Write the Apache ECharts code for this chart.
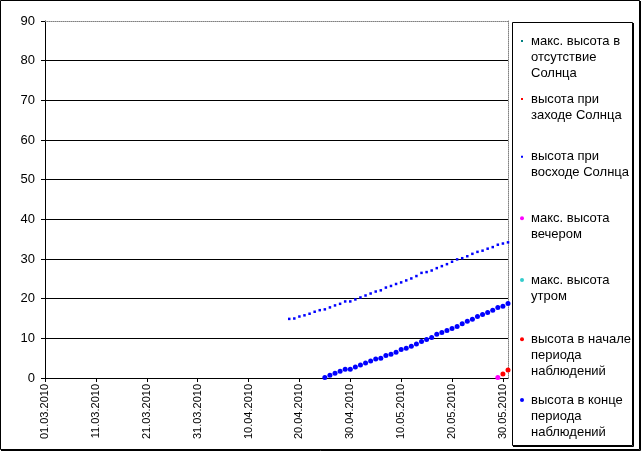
<!DOCTYPE html>
<html><head><meta charset="utf-8">
<script src="https://cdn.jsdelivr.net/npm/echarts@6/dist/echarts.min.js"></script>
<style>html,body{margin:0;padding:0;background:#fff}#c{width:642px;height:452px}</style>
</head><body><div id="c"></div>
<script>
// ---- data ----
const xTickLabels = ['01.03.2010','11.03.2010','21.03.2010','31.03.2010','10.04.2010','20.04.2010','30.04.2010','10.05.2010','20.05.2010','30.05.2010'];
const xTickDays = [0,10,20,30,40,50,60,70,80,90];
const seriesNames = [
  'макс. высота в отсутствие Солнца',
  'высота при заходе Солнца',
  'высота при восходе Солнца',
  'макс. высота вечером',
  'макс. высота утром',
  'высота в начале периода наблюдений',
  'высота в конце периода наблюдений'
];
const legendLabels = [
  'макс. высота в\nотсутствие\nСолнца',
  'высота при\nзаходе Солнца',
  'высота при\nвосходе Солнца',
  'макс. высота\nвечером',
  'макс. высота\nутром',
  'высота в начале\nпериода\nнаблюдений',
  'высота в конце\nпериода\nнаблюдений'
];
// series values: first date + one value per day
const noSunMaxStart = '01.03.2010';
const noSunMaxValues = [];
const sunsetStart = '01.03.2010';
const sunsetValues = [];
const sunriseStart = '18.04.2010';
const sunriseValues = [14.9,15.0,15.5,15.8,16.2,16.7,17.1,17.3,17.8,18.3,18.7,19.3,19.3,19.8,20.3,20.8,21.3,21.8,22.1,22.8,23.2,23.7,24.1,24.6,25.1,25.7,26.5,26.7,27.1,27.7,28.2,28.7,29.3,29.9,30.2,30.7,31.3,31.8,32.1,32.6,33.0,33.6,33.9,34.2];
const eveningMaxStart = '29.05.2010';
const eveningMaxValues = [0.1];
const morningMaxStart = '01.03.2010';
const morningMaxValues = [];
const periodStartStart = '30.05.2010';
const periodStartValues = [1.0, 2.0];
const periodEndStart = '25.04.2010';
const periodEndValues = [0.1,0.7,1.2,1.7,2.2,2.2,2.8,3.3,3.8,4.3,4.8,5.0,5.7,6.0,6.5,7.2,7.5,8.0,8.6,9.2,9.7,10.2,11.0,11.5,12.0,12.5,13.0,13.7,14.3,14.8,15.5,16.0,16.5,17.1,17.8,18.1,18.8];

// ---- styling ----
const FONT = '"Liberation Sans", Arial, sans-serif';
const seriesColors = ['#008080','#FF0000','#0000FF','#FF00FF','#33CCCC','#FF0000','#0000FF'];
const seriesSymbols = ['rect','rect','rect','circle','circle','circle','circle'];
const seriesSizes = [2.5,2.5,2.5,5,5,5,5];
const legendTops = [1, 75, 132.7, 194.3, 256, 299.3, 360];

function dayIndex(s){
  const p = s.split('.').map(Number);
  return Math.round((Date.UTC(p[2],p[1]-1,p[0]) - Date.UTC(2010,2,1)) / 86400000);
}
function toPoints(start, values){
  const d0 = dayIndex(start);
  return values.map((v,i)=>[d0+i, v]);
}
const allData = [
  toPoints(noSunMaxStart, noSunMaxValues),
  toPoints(sunsetStart, sunsetValues),
  toPoints(sunriseStart, sunriseValues),
  toPoints(eveningMaxStart, eveningMaxValues),
  toPoints(morningMaxStart, morningMaxValues),
  toPoints(periodStartStart, periodStartValues),
  toPoints(periodEndStart, periodEndValues)
];

const series = seriesNames.map((n,i)=>({
  name:n, type:'scatter', xAxisIndex:0, yAxisIndex:0,
  symbol:seriesSymbols[i], symbolSize:seriesSizes[i],
  itemStyle:{color:seriesColors[i], opacity:1},
  data:allData[i], animation:false, clip:false
}));

// legend text: blank lines on top so that the icon sits beside the first line
const legends = seriesNames.map((n,i)=>{
  const lines = legendLabels[i].split('\n').length;
  const small = seriesSymbols[i]==='rect';
  const w = small ? 2 : 4;
  const pad = '\n'.repeat(lines-1);
  return {
    orient:'vertical', left: small ? 521 : 520, top: legendTops[i], padding:0,
    itemWidth:w, itemHeight:w, itemGap:0, selectedMode:false,
    data:[{name:n, icon:seriesSymbols[i]}],
    formatter:()=>pad + legendLabels[i],
    textStyle:{fontFamily:FONT, fontSize:13, color:'#000', lineHeight:16, padding:[0,0,0,small?3:2]}
  };
});

const chart = echarts.init(document.getElementById('c'), null, {renderer:'canvas'});
chart.setOption({
  animation:false,
  backgroundColor:'#fff',
  grid:{left:45, right:134, top:21, bottom:74, containLabel:false},
  xAxis:[{
    type:'value', min:0, max:91, interval:10,
    axisLine:{show:true, onZero:false, lineStyle:{color:'#000', width:1}},
    axisTick:{show:true, length:4, lineStyle:{color:'#000'}, customValues:xTickDays},
    axisLabel:{customValues:xTickDays, rotate:90, margin:6, fontFamily:FONT, fontSize:11, color:'#000',
      formatter:(v)=>{const k = xTickDays.indexOf(Math.round(v)); return k>=0 ? xTickLabels[k] : '';}},
    splitLine:{show:false}
  },{
    type:'value', position:'top', min:0, max:91,
    axisLine:{show:true, onZero:false, lineStyle:{color:'#808080', width:1, type:[1,1]}},
    axisTick:{show:false}, axisLabel:{show:false}, splitLine:{show:false}
  }],
  yAxis:[{
    type:'value', min:0, max:90, interval:10,
    axisLine:{show:true, onZero:false, lineStyle:{color:'#000', width:1}},
    axisTick:{show:true, length:4, lineStyle:{color:'#000'}},
    axisLabel:{margin:10, fontFamily:FONT, fontSize:13, color:'#000'},
    splitLine:{show:true, lineStyle:{color:['#000','#000','#000','#000','#000','#000','#000','#000','#000','rgba(0,0,0,0)'], width:1}}
  },{
    type:'value', position:'right', min:0, max:90,
    axisLine:{show:true, onZero:false, lineStyle:{color:'#808080', width:1, type:[1,1]}},
    axisTick:{show:false}, axisLabel:{show:false}, splitLine:{show:false}
  }],
  legend:legends,
  graphic:[
    {type:'rect', shape:{x:0.5, y:0.5, width:639, height:449}, style:{fill:null, stroke:'#000', lineWidth:1}, silent:true, z:-10},
    {type:'polyline', shape:{points:[[640.5,1],[640.5,450.5],[1,450.5]]}, style:{fill:null, stroke:'#000', lineWidth:1}, silent:true},
    {type:'rect', shape:{x:512.5, y:22.5, width:120, height:423}, style:{fill:'#fff', stroke:'#000', lineWidth:1}, silent:true, z:-5},
    {type:'polyline', shape:{points:[[633.5,23],[633.5,446.5],[513,446.5]]}, style:{fill:null, stroke:'#000', lineWidth:1}, silent:true}
  ],
  series:series
});
</script></body></html>
